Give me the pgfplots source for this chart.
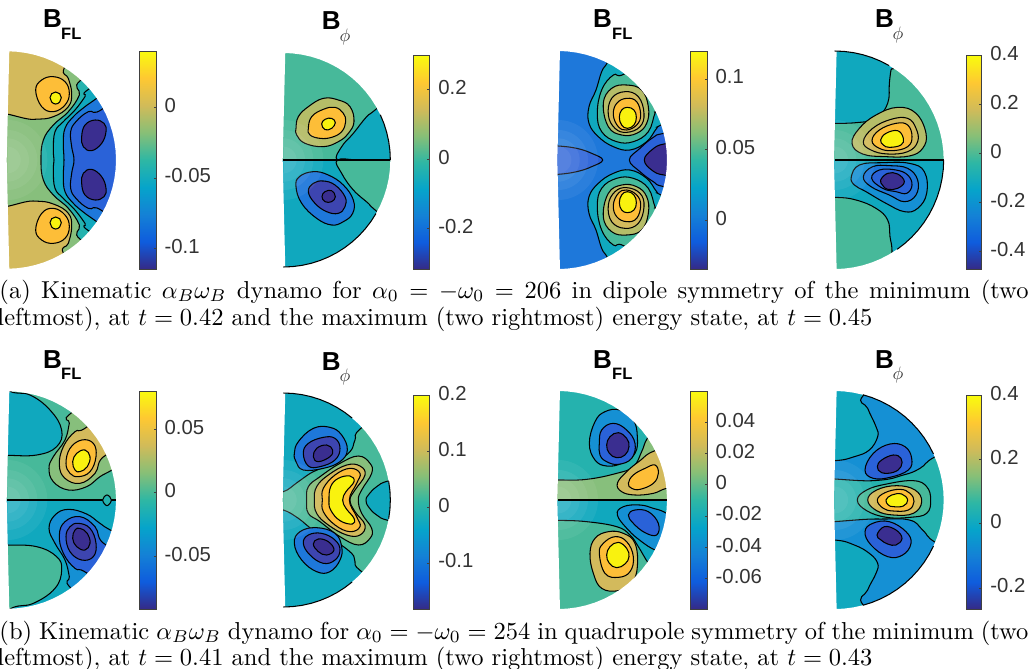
\documentclass[border=0pt]{standalone}
\usepackage{fontspec}
\usepackage{pgfplots}
\usepackage{pgfplotstable}
\pgfplotsset{compat=1.18}
\newfontfamily\arial{Liberation Sans}
\definecolor{L0}{HTML}{3A2E90}
\definecolor{Lb}{HTML}{3D45B0}
\definecolor{L1}{HTML}{2A62D8}
\definecolor{L2}{HTML}{1E78DA}
\definecolor{L3}{HTML}{1590D4}
\definecolor{L4}{HTML}{10A8BE}
\definecolor{L5}{HTML}{25B2AE}
\definecolor{L6}{HTML}{47B99A}
\definecolor{L7}{HTML}{87BF7C}
\definecolor{L8}{HTML}{B5BD68}
\definecolor{L9}{HTML}{D3BA5C}
\definecolor{L10}{HTML}{FDBE38}
\definecolor{L11}{HTML}{F9F20F}
\definecolor{tx}{HTML}{333333}
\definecolor{bx}{HTML}{404040}
\pgfplotsset{colormap={parula}{rgb255=(53,42,135) rgb255=(15,92,221) rgb255=(20,129,214) rgb255=(6,164,202) rgb255=(46,183,164) rgb255=(135,191,119) rgb255=(209,187,89) rgb255=(254,200,50) rgb255=(249,251,14)}}
\pgfplotstableread{
a u v
90 0 -1
85 .0872 -.9962
80 .1736 -.9848
75 .2588 -.9659
70 .3420 -.9397
65 .4226 -.9063
60 .5 -.8660
55 .5736 -.8192
50 .6428 -.7660
45 .7071 -.7071
40 .7660 -.6428
35 .8192 -.5736
30 .8660 -.5
25 .9063 -.4226
20 .9397 -.3420
15 .9659 -.2588
10 .9848 -.1736
5 .9962 -.0872
0 1 0
-5 .9962 .0872
-10 .9848 .1736
-15 .9659 .2588
-20 .9397 .3420
-25 .9063 .4226
-30 .8660 .5
-35 .8192 .5736
-40 .7660 .6428
-45 .7071 .7071
-50 .6428 .7660
-55 .5736 .8192
-60 .5 .8660
-65 .4226 .9063
-70 .3420 .9397
-75 .2588 .9659
-80 .1736 .9848
-85 .0872 .9962
-90 0 1
}\arctbl
\pgfplotstableread{
u v
.018 -1
.0872 -.9962
.1736 -.9848
.2588 -.9659
.3420 -.9397
.4226 -.9063
.5 -.8660
.5736 -.8192
.6428 -.7660
.7071 -.7071
.7660 -.6428
.8192 -.5736
.8660 -.5
.9063 -.4226
.9397 -.3420
.9659 -.2588
.9848 -.1736
.9962 -.0872
1 0
.9962 .0872
.9848 .1736
.9659 .2588
.9397 .3420
.9063 .4226
.8660 .5
.8192 .5736
.7660 .6428
.7071 .7071
.6428 .7660
.5736 .8192
.5 .8660
.4226 .9063
.3420 .9397
.2588 .9659
.1736 .9848
.0872 .9962
.018 1
-.006 0
.018 -1
.018 -2
-2 -2
-2 2
3 2
3 -2
.018 -2
}\masktbl
\pgfplotsset{
 panel/.style={anchor=south west,scale only axis,width=260pt,height=280pt,xmin=0,xmax=780,ymin=0,ymax=840,y dir=reverse,hide axis},
 cbar/.style={anchor=south west,scale only axis,xmin=0,xmax=1,xtick=\empty,enlargelimits=false,axis line style={bx,line width=.8pt},
  ytick pos=right,tick align=inside,major tick length=2.5pt,tick style={bx,line width=.7pt},axis on top,scaled y ticks=false,
  yticklabel style={anchor=west,inner sep=0pt,xshift=8.5pt,yshift=2pt,text=tx,font=\arial\fontsize{20.3}{21}\selectfont}}
}
% a filled contour region
\newcommand\rg[2]{\addplot[fill=#1,draw=black,line width=1.05pt,smooth cycle,tension=.7] coordinates {#2};}
% a flat colour band between two heights
\newcommand\band[3]{\addplot[fill=#1,draw=none] coordinates {(-100,#2)(900,#2)(900,#3)(-100,#3)};}
% mask and pale core of a half disc: centre x, radius
\newcommand\core[1]{%
 \addplot[fill=white,fill opacity=.06,draw=none] table[x expr=#1+120*\thisrow{u},y expr=480+120*\thisrow{v}] {\arctbl};
 \addplot[fill=white,fill opacity=.06,draw=none] table[x expr=#1+90*\thisrow{u},y expr=480+90*\thisrow{v}] {\arctbl};
 \addplot[fill=white,fill opacity=.06,draw=none] table[x expr=#1+65*\thisrow{u},y expr=480+65*\thisrow{v}] {\arctbl};
 \addplot[fill=white,fill opacity=.06,draw=none] table[x expr=#1+40*\thisrow{u},y expr=480+40*\thisrow{v}] {\arctbl};}
\newcommand\mask[2]{\addplot[fill=white,draw=none] table[x expr=#1+#2*\thisrow{u},y expr=480+#2*\thisrow{v}] {\masktbl};}
\newcommand\arcseg[4]{\addplot[black,line width=1.05pt,restrict expr to domain={\thisrow{a}}{#3:#4}] table[x expr=#1+#2*\thisrow{u},y expr=480+#2*\thisrow{v}] {\arctbl};}
\newcommand\divider[2]{\addplot[black,line width=1.05pt] coordinates {(#1,480)(#2,480)};}
% colour bar: left, bottom, width, height, min, max, ticks, labels
\newcommand\cb[8]{\begin{axis}[cbar,at={(#1pt,-#2pt)},width=#3pt,height=#4pt,ymin=#5,ymax=#6,ytick={#7},yticklabels={#8},colormap name=parula,point meta min=#5,point meta max=#6]
 \addplot[surf,shader=interp,mesh/rows=2,mesh/cols=2,point meta=y] table[row sep=\\] {x y\\0 #5\\1 #5\\0 #6\\1 #6\\};
 \end{axis}}
\newcommand\BFL[4]{\node[anchor=base west,inner sep=0,font=\arial\bfseries\fontsize{26}{26}\selectfont] at (#1pt,-#2pt) {B};
 \node[anchor=base west,inner sep=0,font=\arial\bfseries\fontsize{16.5}{17}\selectfont] at (#3pt,-#4pt) {FL};}
\newcommand\Bphi[4]{\node[anchor=base west,inner sep=0,font=\arial\bfseries\fontsize{26}{26}\selectfont] at (#1pt,-#2pt) {B};
 \node[inner sep=0,scale=1.8,text=tx] at (#3pt,-#4pt) {$\phi$};}
\begin{document}
\begin{tikzpicture}
\path[use as bounding box] (0pt,0pt) rectangle (1036pt,-669pt);
% ---------- panel 1
\begin{axis}[panel,at={(0pt,-280pt)}]
\band{L9}{0}{840}
\rg{L7}{(-50,360)(100,358)(160,350)(205,320)(215,280)(205,235)(193,203)(260,100)(600,480)(260,860)(190,760)(205,730)(215,680)(205,640)(160,612)(100,603)(-50,602)}
\rg{L5}{(243,240)(238,285)(205,335)(160,375)(130,420)(123,480)(130,540)(160,585)(205,625)(238,675)(243,720)(400,800)(600,480)(400,160)}
\rg{L4}{(270,265)(255,290)(225,330)(190,365)(165,395)(160,450)(162,480)(160,510)(165,565)(190,595)(225,630)(255,670)(270,695)(450,800)(600,480)(450,160)}
\rg{L2}{(290,295)(255,320)(220,350)(195,385)(190,430)(192,480)(190,530)(195,575)(220,610)(255,640)(290,665)(450,780)(600,480)(450,180)}
\rg{L1}{(310,325)(265,335)(228,365)(212,395)(215,440)(222,480)(215,520)(212,565)(228,595)(265,625)(310,635)(450,760)(600,480)(450,200)}
\rg{L0}{(245,410)(255,375)(285,360)(312,370)(318,395)(305,430)(275,452)(250,440)}
\rg{L0}{(245,550)(255,585)(285,600)(312,590)(318,565)(305,530)(275,508)(250,520)}
\rg{L10}{(107,270)(125,240)(160,230)(195,245)(208,280)(195,315)(160,335)(125,320)}
\rg{L11}{(150,293)(155,281)(167,276)(179,281)(184,293)(179,306)(167,312)(155,306)}
\rg{L10}{(107,690)(125,720)(160,730)(195,715)(208,680)(195,645)(160,625)(125,640)}
\rg{L11}{(150,668)(155,656)(167,651)(179,656)(184,668)(179,681)(167,687)(155,681)}
\core{22}
\mask{22}{326}
\end{axis}
% ---------- panel 2
\begin{axis}[panel,at={(260pt,-280pt)}]
\band{L6}{0}{480}
\rg{L4}{(232,480)(245,440)(280,400)(320,350)(350,326)(500,200)(600,480)(400,480)(300,480)}
\rg{L8}{(108,385)(115,350)(145,320)(190,295)(235,300)(270,320)(282,365)(265,400)(235,425)(190,440)(135,430)(110,405)}
\rg{L10}{(145,385)(155,350)(190,328)(225,322)(250,340)(257,365)(245,395)(215,412)(180,415)(150,405)}
\rg{L11}{(185,372)(195,358)(215,355)(226,368)(215,385)(195,389)}
\band{L4}{480}{840}
\rg{L6}{(232,480)(300,480)(400,480)(600,480)(500,760)(350,634)(325,610)(280,570)(245,520)}
\rg{L2}{(108,560)(118,530)(160,515)(205,525)(250,555)(280,600)(278,640)(250,665)(215,675)(170,655)(125,610)}
\rg{Lb}{(145,575)(160,550)(190,543)(225,555)(255,590)(255,620)(235,640)(200,635)(165,610)}
\rg{L0}{(186,590)(195,575)(215,572)(226,590)(215,605)(195,605)}
\core{70}
\mask{70}{321}
\divider{70}{391}
\arcseg{70}{321}{0}{29}
\arcseg{70}{321}{-90}{-29}
\end{axis}
% ---------- panel 3
\begin{axis}[panel,at={(520pt,-280pt)}]
\band{L2}{0}{840}
\rg{L4}{(262,188)(245,215)(228,270)(207,320)(207,370)(235,410)(280,440)(330,450)(380,425)(410,385)(428,372)(560,300)(500,100)(300,120)}
\rg{L6}{(313,222)(280,225)(245,270)(232,340)(245,395)(290,425)(340,425)(385,395)(405,340)(415,335)(520,300)(430,150)}
\rg{L8}{(250,310)(275,265)(320,255)(365,270)(385,320)(380,370)(350,400)(305,405)(265,380)}
\rg{L9}{(265,345)(275,295)(315,275)(355,290)(372,340)(360,380)(320,397)(285,385)}
\rg{L10}{(280,345)(290,310)(320,295)(350,305)(362,345)(350,375)(320,390)(295,380)}
\rg{L11}{(298,352)(305,330)(322,322)(342,330)(349,352)(342,375)(322,385)(305,375)}
\rg{L4}{(262,772)(245,745)(228,690)(207,640)(207,590)(235,550)(280,520)(330,510)(380,535)(410,575)(428,588)(560,660)(500,860)(300,840)}
\rg{L6}{(313,738)(280,735)(245,690)(232,620)(245,565)(290,535)(340,535)(385,565)(405,620)(415,625)(520,660)(430,810)}
\rg{L8}{(250,650)(275,695)(320,705)(365,690)(385,640)(380,590)(350,560)(305,555)(265,580)}
\rg{L9}{(265,615)(275,665)(315,685)(355,670)(372,620)(360,580)(320,563)(285,575)}
\rg{L10}{(280,615)(290,650)(320,665)(350,655)(362,615)(350,585)(320,570)(295,580)}
\rg{L11}{(298,608)(305,630)(322,638)(342,630)(349,608)(342,585)(322,575)(305,585)}
\rg{L1}{(60,438)(114,438)(170,445)(215,460)(248,480)(215,500)(170,515)(114,523)(60,523)}
\rg{L1}{(328,480)(360,445)(400,412)(432,400)(560,380)(560,580)(432,560)(400,545)(360,515)}
\rg{L0}{(373,480)(395,450)(432,432)(500,432)(500,525)(432,525)(395,510)}
\core{114}
\mask{114}{327}
\end{axis}
% ---------- panel 4
\begin{axis}[panel,at={(776pt,-280pt)}]
\band{L6}{0}{480}
\rg{L4}{(50,100)(300,100)(350,195)(345,210)(340,250)(335,310)(300,355)(240,368)(150,370)(50,370)}
\rg{L8}{(228,430)(250,385)(300,345)(365,322)(420,340)(450,400)(440,445)(400,468)(330,470)(260,462)}
\rg{L9}{(262,425)(290,385)(345,358)(395,355)(420,385)(425,425)(395,455)(335,462)(285,450)}
\rg{L10}{(288,422)(310,390)(360,370)(395,375)(408,410)(395,440)(350,452)(310,445)}
\rg{L11}{(314,420)(330,400)(365,392)(382,415)(375,435)(340,442)(322,435)}
\band{L4}{480}{840}
\rg{L6}{(50,592)(176,592)(240,600)(300,625)(335,660)(342,710)(348,762)(340,880)(50,880)}
\rg{L3}{(226,530)(250,495)(320,488)(400,490)(445,515)(452,580)(425,625)(385,635)(330,610)(270,575)(235,555)}
\rg{L2}{(262,530)(290,500)(340,497)(395,505)(425,540)(420,585)(385,605)(340,585)(285,560)}
\rg{L1}{(287,535)(310,510)(360,510)(395,525)(408,555)(392,580)(360,575)(320,565)}
\rg{L0}{(314,540)(335,520)(365,522)(385,545)(365,565)(335,568)(320,556)}
\core{176}
\mask{176}{327}
\divider{176}{503}
\arcseg{176}{327}{58}{90}
\arcseg{176}{327}{-58}{0}
\end{axis}
% ---------- panel 5
\begin{axis}[panel,at={(0pt,-620pt)}]
\band{L6}{0}{480}
\rg{L4}{(-50,100)(28,153)(90,165)(150,210)(185,270)(170,320)(110,345)(20,346)(-50,346)}
\rg{L7}{(215,218)(208,250)(195,300)(160,350)(147,385)(160,425)(205,450)(260,440)(300,410)(340,388)(500,300)(400,100)}
\rg{L9}{(262,260)(225,275)(190,320)(178,375)(195,415)(240,430)(285,400)(318,345)(450,300)(400,150)}
\rg{L10}{(198,370)(210,325)(245,300)(280,310)(288,350)(270,395)(235,410)(210,400)}
\rg{L11}{(218,365)(230,340)(255,330)(270,350)(262,380)(240,395)(225,390)}
\band{L4}{480}{840}
\rg{L6}{(-50,615)(22,615)(110,620)(170,650)(185,690)(165,745)(100,790)(28,808)(-50,880)}
\rg{L3}{(147,565)(165,525)(205,508)(260,522)(300,550)(340,575)(500,660)(350,860)(213,745)(208,710)(195,660)(165,610)}
\rg{L1}{(262,700)(225,685)(190,640)(178,585)(195,545)(240,530)(285,560)(318,615)(450,660)(400,800)}
\rg{Lb}{(198,590)(210,635)(245,660)(280,650)(288,610)(270,565)(235,550)(210,560)}
\rg{L0}{(218,595)(230,620)(255,630)(270,610)(262,580)(240,565)(225,570)}
\core{22}
\mask{22}{326}
\divider{22}{347}
\rg{L5}{(308,480)(321,465)(334,480)(321,497)}
\end{axis}
% ---------- panel 6
\begin{axis}[panel,at={(260pt,-620pt)}]
\band{L4}{0}{840}
\rg{L6}{(305,263)(285,300)(270,335)(220,370)(160,395)(115,425)(70,455)(20,455)(-50,455)(-50,505)(20,505)(70,510)(115,535)(160,570)(220,600)(275,640)(285,665)(305,695)(450,800)(620,480)(450,160)}
\rg{L4}{(388,422)(350,440)(325,465)(318,480)(325,500)(350,525)(388,542)(500,560)(500,400)}
\rg{L7}{(140,480)(145,440)(180,410)(240,370)(295,348)(330,370)(335,400)(305,450)(295,480)(305,520)(335,565)(330,595)(295,615)(240,590)(180,545)(145,520)}
\rg{L9}{(163,480)(170,440)(205,405)(260,375)(300,378)(315,405)(285,450)(270,480)(285,515)(315,555)(300,585)(260,585)(205,555)(170,520)}
\rg{L10}{(187,480)(190,445)(225,405)(270,385)(300,400)(290,430)(268,480)(290,530)(300,560)(270,575)(225,555)(190,515)}
\rg{L11}{(207,480)(212,440)(235,415)(270,408)(282,425)(258,455)(248,480)(258,505)(282,535)(277,552)(240,542)(212,510)}
\rg{L2}{(103,340)(115,305)(160,265)(210,262)(245,285)(262,330)(240,365)(190,385)(130,390)(108,365)}
\rg{Lb}{(130,340)(145,310)(190,292)(225,295)(240,325)(225,360)(180,380)(145,378)}
\rg{L0}{(160,350)(170,325)(200,315)(218,330)(210,350)(175,365)}
\rg{L2}{(103,610)(120,575)(170,563)(225,580)(245,620)(240,660)(210,695)(170,695)(125,660)}
\rg{Lb}{(130,610)(145,585)(185,580)(225,600)(240,630)(225,660)(190,670)(150,645)}
\rg{L0}{(160,612)(175,597)(205,605)(222,630)(200,645)(175,635)}
\core{70}
\mask{70}{321}
\arcseg{70}{321}{47}{90}
\arcseg{70}{321}{-10}{10}
\arcseg{70}{321}{-90}{-47}
\end{axis}
% ---------- panel 7
\begin{axis}[panel,at={(520pt,-620pt)}]
\band{L5}{0}{480}
\rg{L7}{(40,420)(114,420)(200,418)(290,400)(340,380)(365,335)(382,295)(420,250)(520,400)(560,520)(300,530)(40,530)}
\rg{L9}{(405,332)(360,362)(320,395)(292,430)(305,455)(345,465)(400,460)(440,445)(520,430)(520,300)}
\rg{L10}{(325,430)(340,405)(375,385)(405,375)(415,400)(400,430)(360,448)(335,445)}
\rg{L3}{(208,310)(225,245)(255,215)(300,210)(340,240)(352,290)(345,340)(305,370)(260,378)(225,360)}
\rg{L1}{(238,310)(245,270)(280,250)(320,270)(345,310)(335,355)(295,373)(260,365)(240,345)}
\rg{L0}{(260,315)(270,290)(295,278)(320,295)(327,320)(315,345)(290,353)(268,340)}
\band{L4}{480}{840}
\rg{L6}{(40,541)(114,541)(200,545)(290,560)(330,585)(355,620)(382,665)(420,720)(500,880)(40,880)}
\rg{L3}{(292,525)(310,500)(360,495)(400,505)(440,520)(520,570)(460,650)(405,630)(365,605)(325,570)}
\rg{L1}{(325,525)(345,510)(385,515)(415,550)(410,585)(375,578)(340,550)}
\rg{L9}{(210,640)(225,595)(265,575)(310,580)(345,610)(352,680)(335,730)(295,752)(245,745)(220,700)}
\rg{L10}{(238,640)(250,610)(285,590)(320,605)(340,650)(330,695)(295,712)(255,700)}
\rg{L11}{(260,645)(270,620)(295,607)(320,625)(327,650)(315,672)(290,683)(268,670)}
\core{114}
\mask{114}{327}
\divider{114}{441}
\end{axis}
% ---------- panel 8
\begin{axis}[panel,at={(776pt,-620pt)}]
\band{L4}{0}{840}
\rg{L3}{(263,165)(275,205)(300,260)(305,290)(280,330)(235,350)(176,362)(60,362)(60,600)(176,600)(235,615)(280,640)(305,670)(300,700)(275,750)(263,797)(400,900)(700,480)(400,60)}
\rg{L5}{(60,425)(292,422)(382,405)(432,385)(478,350)(600,300)(700,480)(600,660)(480,608)(440,570)(400,540)(300,537)(60,537)}
\rg{L6}{(244,480)(272,450)(332,432)(412,422)(452,440)(464,480)(452,520)(402,532)(332,532)(272,512)}
\rg{L9}{(275,480)(302,450)(362,437)(417,450)(437,485)(412,520)(352,525)(302,512)}
\rg{L10}{(304,480)(327,458)(372,448)(402,460)(414,485)(397,510)(352,513)(322,505)}
\rg{L11}{(330,480)(347,465)(377,462)(395,480)(382,498)(352,500)(337,495)}
\rg{L1}{(267,390)(292,340)(342,312)(387,320)(407,355)(397,390)(342,412)(292,415)}
\rg{L0}{(304,380)(317,360)(352,345)(375,355)(375,380)(352,397)(317,398)}
\rg{L1}{(267,575)(290,550)(340,545)(390,575)(405,610)(380,645)(335,650)(285,615)}
\rg{L0}{(303,585)(325,560)(360,570)(378,595)(360,615)(335,612)(315,600)}
\core{176}
\mask{176}{327}
\arcseg{176}{327}{22.5}{75}
\arcseg{176}{327}{-75}{-22.5}
\end{axis}
% ---------- colour bars
\cb{139}{269}{17}{218}{-0.1146}{0.0399}{-0.1,-0.05,0}{-0.1,-0.05,0}
\cb{413.7}{269}{16}{213.3}{-0.3165}{0.298}{-0.2,0,0.2}{-0.2,0,0.2}
\cb{690}{269}{17}{218}{-0.0347}{0.1198}{0,0.05,0.1}{0,0.05,0.1}
\cb{966.7}{269}{15}{213.3}{-0.4722}{0.4}{-0.4,-0.2,0,0.2,0.4}{-0.4,-0.2,0,0.2,0.4}
\cb{139}{609}{17}{218}{-0.0916}{0.0801}{-0.05,0,0.05}{-0.05,0,0.05}
\cb{413.7}{609}{16}{213.3}{-0.1825}{0.2}{-0.1,0,0.1,0.2}{-0.1,0,0.1,0.2}
\cb{690}{609}{17}{218}{-0.0796}{0.06}{-0.06,-0.04,-0.02,0,0.02,0.04}{-0.06,-0.04,-0.02,0,0.02,0.04}
\cb{966.7}{609}{15}{213.3}{-0.266}{0.4}{-0.2,0,0.2,0.4}{-0.2,0,0.2,0.4}
% ---------- titles
\BFL{43}{28}{61}{39.5}
\Bphi{321.7}{30}{345}{37}
\BFL{593}{28}{612}{39.5}
\Bphi{875}{28}{898}{35}
\BFL{43}{368}{61}{379.5}
\Bphi{321.7}{370}{345}{377}
\BFL{593}{368}{612}{379.5}
\Bphi{875}{368}{898}{375}
% ---------- captions
\node[anchor=base west,inner sep=0,scale=2.45] at (-1pt,-298pt) {\hbox to 420pt{(a) Kinematic $\alpha_B\omega_B$ dynamo for $\alpha_0=-\omega_0=206$ in dipole symmetry of the minimum (two}};
\node[anchor=base west,inner sep=0,scale=2.45] at (-3pt,-325pt) {leftmost), at $t=0.42$ and the maximum (two rightmost) energy state, at $t=0.45$};
\node[anchor=base west,inner sep=0,scale=2.45] at (-1pt,-639pt) {\hbox to 420pt{(b) Kinematic $\alpha_B\omega_B$ dynamo for $\alpha_0=-\omega_0=254$ in quadrupole symmetry of the minimum (two}};
\node[anchor=base west,inner sep=0,scale=2.45] at (-3pt,-665pt) {leftmost), at $t=0.41$ and the maximum (two rightmost) energy state, at $t=0.43$};
\end{tikzpicture}
\end{document}
